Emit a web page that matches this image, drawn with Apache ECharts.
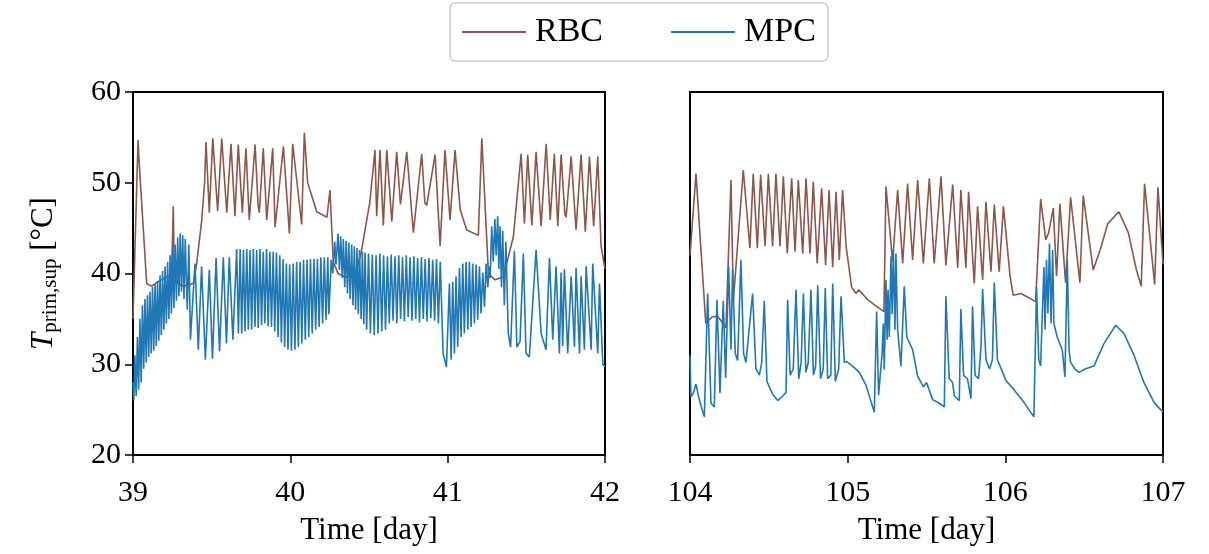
<!DOCTYPE html>
<html>
<head>
<meta charset="utf-8">
<script src="https://cdn.jsdelivr.net/npm/echarts@6/dist/echarts.min.js"></script>
<style>
html,body{margin:0;padding:0;background:#fff;}
#chart{width:1209px;height:554px;}
</style>
</head>
<body>
<div id="chart"></div>
<script>
// ---- Data (time [day], temperature [°C]) ----
const seriesNames = ['RBC', 'MPC'];
const leftXTicks = [39, 40, 41, 42];
const rightXTicks = [104, 105, 106, 107];
const yTicks = [20, 30, 40, 50, 60];

const rbcLeft = [
[39.000,35.0],[39.032,54.7],[39.040,52.0],[39.087,38.9],[39.120,38.6],[39.150,39.0],[39.200,39.5],[39.245,39.8],
[39.256,47.4],[39.262,40.5],[39.280,39.0],[39.320,38.6],[39.362,38.8],[39.383,38.9],[39.405,41.1],[39.437,45.9],
[39.455,50.0],[39.464,54.5],[39.485,46.7],[39.507,54.9],[39.538,46.9],[39.564,54.9],[39.596,46.7],[39.623,54.3],
[39.648,46.3],[39.669,54.2],[39.695,46.7],[39.718,53.8],[39.739,45.9],[39.776,54.2],[39.795,47.5],[39.803,46.7],
[39.828,53.8],[39.850,45.9],[39.888,53.8],[39.903,45.1],[39.956,54.0],[39.994,44.4],[40.015,54.3],[40.072,45.4],
[40.089,55.5],[40.110,50.0],[40.168,46.8],[40.200,46.5],[40.233,46.2],[40.252,49.2],[40.273,41.3],[40.303,40.0],
[40.348,39.6],[40.411,39.8],[40.449,42.2],[40.505,47.8],[40.538,53.6],[40.549,46.3],[40.570,53.6],[40.591,45.3],
[40.613,53.6],[40.645,45.7],[40.676,53.4],[40.700,47.6],[40.708,47.4],[40.740,53.4],[40.782,44.5],[40.835,53.2],
[40.855,47.8],[40.867,47.5],[40.920,53.1],[40.952,43.0],[40.983,53.6],[41.015,45.9],[41.047,53.6],[41.080,47.0],
[41.121,44.8],[41.195,44.2],[41.217,54.9],[41.259,40.0],[41.301,39.3],[41.354,39.6],[41.418,44.1],[41.467,53.2],
[41.488,45.5],[41.509,53.1],[41.535,45.3],[41.562,53.4],[41.594,45.2],[41.626,54.3],[41.652,45.9],[41.678,53.2],
[41.700,45.2],[41.721,53.1],[41.745,46.5],[41.753,46.2],[41.785,52.9],[41.816,44.8],[41.848,53.1],[41.875,44.6],
[41.901,52.9],[41.928,45.2],[41.954,52.9],[41.975,43.0],[42.000,40.5]
];

const mpcLeft = [
[39.000,28.0],[39.005,26.0],[39.012,31.0],[39.020,26.5],[39.028,33.0],[39.036,27.2],[39.044,35.0],[39.052,28.0],
[39.060,36.5],[39.068,29.5],[39.076,37.2],[39.084,30.2],[39.092,37.6],[39.100,30.8],[39.108,38.0],[39.116,31.2],
[39.124,38.5],[39.132,31.5],[39.140,38.8],[39.148,32.0],[39.156,39.2],[39.164,32.6],[39.172,39.8],[39.180,33.2],
[39.188,40.3],[39.196,33.8],[39.204,40.8],[39.212,34.5],[39.220,41.3],[39.228,35.0],[39.236,42.0],[39.244,35.6],
[39.252,42.6],[39.260,36.2],[39.268,43.2],[39.276,37.0],[39.284,44.0],[39.292,37.5],[39.300,44.4],[39.308,38.0],
[39.316,44.2],[39.324,37.2],[39.332,43.8],[39.345,36.0],[39.355,43.2],[39.365,32.7],
[39.394,41.1],[39.415,31.6],[39.436,40.8],[39.460,30.5],[39.485,40.4],[39.505,30.6],[39.528,41.7],[39.550,31.4],
[39.574,41.8],[39.594,32.3],[39.612,41.8],[39.635,32.7],[39.659,42.7],
[39.670,33.4],[39.681,42.7],[39.691,33.4],[39.702,42.6],[39.712,33.6],[39.723,42.7],[39.733,33.8],[39.744,42.6],
[39.754,33.8],[39.765,42.7],[39.775,34.1],[39.786,42.6],[39.796,34.0],[39.807,42.7],[39.817,34.3],[39.828,42.4],
[39.838,34.5],[39.849,42.7],[39.859,34.2],[39.870,42.4],[39.880,34.1],[39.891,42.4],[39.901,33.6],[39.912,42.3],
[39.922,33.0],[39.933,42.0],[39.943,32.4],[39.954,41.6],[39.964,31.9],[39.975,41.1],[39.985,31.6],
[39.996,41.0],[40.007,31.5],[40.018,41.1],[40.029,31.6],[40.040,41.3],[40.051,31.9],[40.062,41.3],[40.073,32.3],
[40.084,41.5],[40.095,32.7],[40.106,41.5],[40.117,33.0],[40.128,41.6],[40.139,33.4],[40.150,41.6],[40.161,33.8],
[40.172,41.6],[40.183,34.1],[40.194,41.8],[40.205,34.5],[40.216,41.8],[40.227,34.9],[40.238,41.8],[40.245,35.5],
[40.260,41.5],[40.270,40.0],[40.282,43.5],[40.290,41.0],[40.303,44.4],[40.312,40.4],[40.320,44.1],[40.330,39.5],
[40.337,43.8],[40.346,38.5],[40.355,43.6],[40.363,37.8],[40.372,43.4],[40.380,37.2],[40.390,43.2],[40.398,36.5],
[40.407,43.0],[40.415,36.0],[40.424,42.8],[40.432,35.5],[40.440,42.6],[40.450,35.0],[40.458,42.4],[40.467,34.4],
[40.475,42.3],[40.485,33.8],
[40.497,42.2],[40.509,33.4],[40.521,42.1],[40.533,33.2],[40.545,42.0],[40.557,33.4],[40.569,42.2],[40.581,33.6],
[40.593,42.0],[40.605,33.8],[40.617,41.9],[40.629,34.5],[40.641,42.1],[40.653,34.8],[40.665,41.9],[40.677,34.5],
[40.689,42.0],[40.701,35.0],[40.713,41.8],[40.725,34.7],[40.737,42.0],[40.749,35.2],[40.761,41.8],[40.773,34.8],
[40.785,41.9],[40.797,35.0],[40.809,41.7],[40.821,34.6],[40.833,41.8],[40.845,35.0],[40.857,41.6],[40.869,34.7],
[40.881,41.7],[40.893,35.1],[40.905,41.5],[40.917,34.8],[40.929,41.6],[40.941,34.5],[40.953,41.3],[40.971,31.2],
[40.992,29.7],
[41.011,38.9],[41.022,30.5],[41.032,39.1],[41.043,31.2],[41.053,39.7],[41.064,31.9],[41.075,40.6],[41.085,33.0],
[41.096,41.1],[41.106,33.4],[41.117,41.3],[41.128,33.8],[41.138,41.3],[41.149,34.1],[41.159,41.1],[41.170,34.5],
[41.181,41.0],[41.191,34.9],[41.202,40.8],[41.212,35.6],[41.223,40.1],[41.234,36.3],[41.244,41.1],
[41.255,38.5],[41.265,40.8],[41.270,39.5],[41.280,45.2],[41.290,41.3],[41.300,46.0],[41.308,42.0],[41.318,46.3],
[41.325,40.5],[41.333,45.2],[41.342,38.5],[41.350,44.7],[41.360,36.5],[41.370,43.5],[41.385,33.4],[41.400,31.9],
[41.424,42.5],[41.440,31.9],[41.460,32.5],[41.481,42.2],[41.498,31.2],[41.519,30.8],[41.562,42.6],[41.594,33.4],
[41.625,31.6],[41.647,41.7],[41.668,32.7],[41.689,40.8],[41.710,31.2],[41.721,40.1],[41.731,32.0],[41.742,40.5],
[41.763,31.2],[41.785,39.7],[41.806,31.9],[41.816,40.6],[41.838,31.2],[41.848,39.7],[41.869,31.6],[41.880,40.8],
[41.912,31.6],[41.922,41.1],[41.954,31.2],[41.965,38.9],[41.986,30.0],[42.000,29.7]
];

const rbcRight = [
[104.000,42.0],[104.038,51.0],[104.100,34.5],[104.140,35.2],[104.175,35.3],[104.210,34.5],[104.228,34.0],[104.260,50.3],
[104.275,37.0],[104.338,51.4],[104.380,42.8],[104.401,51.0],[104.427,42.8],[104.448,50.9],[104.476,43.0],[104.497,51.0],
[104.524,43.0],[104.545,51.0],[104.571,43.0],[104.592,50.7],[104.617,42.2],[104.645,50.5],[104.666,42.4],[104.687,50.3],
[104.715,42.2],[104.736,50.5],[104.761,42.2],[104.782,50.1],[104.807,41.1],[104.835,49.4],[104.860,40.9],[104.882,49.2],
[104.905,40.7],[104.926,49.0],[104.947,41.5],[104.968,49.2],[104.990,43.0],[105.025,38.5],[105.053,37.8],[105.070,38.2],
[105.128,37.1],[105.181,36.4],[105.230,35.8],[105.243,49.6],[105.285,41.3],[105.317,49.2],[105.349,41.1],[105.380,49.9],
[105.412,41.5],[105.444,50.3],[105.480,41.1],[105.518,50.5],[105.549,41.1],[105.592,50.7],[105.623,40.9],[105.666,49.8],
[105.698,40.6],[105.718,49.2],[105.750,40.6],[105.767,49.0],[105.803,38.9],[105.824,47.4],[105.856,39.3],[105.877,47.9],
[105.909,40.2],[105.930,47.6],[105.961,40.2],[105.988,47.4],[106.030,39.7],[106.050,37.6],[106.100,37.8],[106.192,36.9],
[106.224,48.2],[106.256,43.7],[106.275,44.5],[106.304,47.2],[106.325,39.7],[106.346,47.7],[106.382,39.0],[106.414,48.4],
[106.473,39.0],[106.494,48.6],[106.557,40.4],[106.600,42.5],[106.650,45.5],[106.720,46.8],[106.780,44.5],[106.830,40.5],
[106.862,38.6],[106.883,49.9],[106.947,38.8],[106.968,49.5],[107.000,41.0]
];

const mpcRight = [
[104.000,31.0],[104.006,26.4],[104.021,26.8],[104.038,27.8],[104.060,26.0],[104.091,24.2],[104.112,37.8],[104.133,25.7],
[104.154,25.3],[104.171,37.1],[104.190,26.8],[104.211,37.0],[104.226,28.5],[104.245,40.8],[104.260,31.6],[104.270,40.5],
[104.287,31.2],[104.302,30.4],[104.323,41.5],[104.340,31.2],[104.355,30.2],[104.397,37.8],[104.418,29.5],[104.440,28.8],
[104.455,30.2],[104.471,37.0],[104.488,28.1],[104.524,26.7],[104.556,26.0],[104.588,26.5],[104.609,26.9],[104.619,37.1],
[104.635,28.8],[104.655,29.5],[104.672,38.2],[104.690,28.4],[104.705,30.2],[104.719,37.8],[104.735,29.1],[104.750,30.2],
[104.767,38.2],[104.783,28.8],[104.797,29.8],[104.810,38.7],[104.828,28.4],[104.845,29.5],[104.858,38.4],[104.873,28.4],
[104.893,28.8],[104.905,38.9],[104.922,28.1],[104.943,29.5],[104.958,37.5],[104.979,30.2],[104.993,30.3],[105.031,29.8],
[105.074,29.1],[105.116,27.7],[105.169,24.7],[105.184,35.8],[105.196,26.6],[105.207,26.5],[105.218,31.1],[105.226,34.5],
[105.232,29.4],[105.243,39.3],[105.250,32.7],[105.256,38.2],[105.264,33.0],[105.275,41.9],[105.282,35.5],[105.290,42.6],
[105.300,33.8],[105.306,42.2],[105.317,33.8],[105.338,29.8],[105.359,38.6],[105.375,33.0],[105.412,31.6],[105.444,28.7],
[105.480,27.5],[105.500,28.0],[105.539,26.1],[105.581,25.7],[105.613,25.3],[105.623,37.5],[105.644,28.4],[105.665,28.0],
[105.677,26.5],[105.708,26.0],[105.718,36.1],[105.735,28.8],[105.760,28.4],[105.782,26.2],[105.792,36.4],[105.808,28.8],
[105.830,28.4],[105.845,31.7],[105.856,38.3],[105.877,30.5],[105.900,29.5],[105.918,30.5],[105.930,39.0],[105.950,30.5],
[105.983,29.1],[106.004,28.2],[106.055,27.2],[106.118,25.8],[106.181,24.2],[106.198,38.5],[106.212,30.5],[106.224,29.8],
[106.234,35.3],[106.245,40.7],[106.252,33.8],[106.261,41.5],[106.270,35.6],[106.280,43.3],[106.290,34.5],[106.300,42.6],
[106.308,34.5],[106.329,33.0],[106.361,31.6],[106.378,28.6],[106.393,41.5],[106.404,31.6],[106.414,30.2],[106.440,29.5],
[106.467,29.1],[106.509,29.5],[106.562,29.8],[106.626,32.3],[106.700,34.3],[106.752,33.4],[106.816,31.0],[106.879,28.0],
[106.943,25.8],[106.985,25.0],[107.000,24.8]
];

// ---- Styling ----
const FONT = 'Liberation Serif';
const colors = { RBC: '#8c564b', MPC: '#1f77b4' };

function xAxisFor(gridIndex, ticks) {
  return {
    type: 'value', gridIndex: gridIndex,
    min: ticks[0], max: ticks[ticks.length - 1], interval: ticks[1] - ticks[0],
    name: 'Time [day]', nameLocation: 'middle', nameGap: 60,
    nameTextStyle: { fontFamily: FONT, fontSize: 31, color: '#000' },
    axisLine: { show: true, onZero: false, lineStyle: { color: '#000', width: 2 } },
    axisTick: { show: true, inside: false, length: 8, lineStyle: { color: '#000', width: 1.5 } },
    axisLabel: { show: true, margin: 23, fontFamily: FONT, fontSize: 30, color: '#000' },
    splitLine: { show: false }
  };
}

const option = {
  animation: false,
  backgroundColor: '#fff',
  color: [colors.RBC, colors.MPC],
  legend: {
    data: seriesNames.map(function (n) { return { name: n, icon: 'rect' }; }),
    top: 3, left: 450,
    padding: [12, 12, 12, 12],
    itemWidth: 64, itemHeight: 2, itemGap: 68,
    borderColor: '#cccccc', borderWidth: 1.5, borderRadius: 5,
    backgroundColor: '#fff',
    textStyle: { fontFamily: FONT, fontSize: 34, color: '#000', padding: [0, 0, 0, 4] }
  },
  grid: [
    { left: 133, top: 92, width: 472, height: 363, show: true, borderColor: '#000', borderWidth: 2, backgroundColor: 'transparent' },
    { left: 690, top: 92, width: 473, height: 363, show: true, borderColor: '#000', borderWidth: 2, backgroundColor: 'transparent' }
  ],
  xAxis: [ xAxisFor(0, leftXTicks), xAxisFor(1, rightXTicks) ],
  yAxis: [
    {
      type: 'value', gridIndex: 0, min: yTicks[0], max: yTicks[yTicks.length - 1], interval: yTicks[1] - yTicks[0],
      name: '{it|T}{sub|prim,sup} [°C]', nameLocation: 'middle', nameGap: 72, nameRotate: 90,
      nameTextStyle: {
        fontFamily: FONT, fontSize: 31, color: '#000',
        rich: {
          it: { fontFamily: FONT, fontSize: 31, fontStyle: 'italic', color: '#000' },
          sub: { fontFamily: FONT, fontSize: 21, color: '#000', verticalAlign: 'bottom', padding: [14, 0, 0, 0] }
        }
      },
      axisLine: { show: true, lineStyle: { color: '#000', width: 2 } },
      axisTick: { show: true, inside: false, length: 8, lineStyle: { color: '#000', width: 1.5 } },
      axisLabel: { show: true, margin: 12, fontFamily: FONT, fontSize: 30, color: '#000' },
      splitLine: { show: false }
    },
    {
      type: 'value', gridIndex: 1, min: yTicks[0], max: yTicks[yTicks.length - 1], interval: yTicks[1] - yTicks[0],
      axisLine: { show: true, lineStyle: { color: '#000', width: 2 } },
      axisTick: { show: false }, axisLabel: { show: false }, splitLine: { show: false }
    }
  ],
  series: [
    { name: 'RBC', type: 'line', xAxisIndex: 0, yAxisIndex: 0, data: rbcLeft, symbol: 'none', lineStyle: { color: colors.RBC, width: 1.6 }, itemStyle: { color: colors.RBC }, z: 2 },
    { name: 'MPC', type: 'line', xAxisIndex: 0, yAxisIndex: 0, data: mpcLeft, symbol: 'none', lineStyle: { color: colors.MPC, width: 1.6 }, itemStyle: { color: colors.MPC }, z: 3 },
    { name: 'RBC', type: 'line', xAxisIndex: 1, yAxisIndex: 1, data: rbcRight, symbol: 'none', lineStyle: { color: colors.RBC, width: 1.6 }, itemStyle: { color: colors.RBC }, z: 2 },
    { name: 'MPC', type: 'line', xAxisIndex: 1, yAxisIndex: 1, data: mpcRight, symbol: 'none', lineStyle: { color: colors.MPC, width: 1.6 }, itemStyle: { color: colors.MPC }, z: 3 }
  ]
};

const chart = echarts.init(document.getElementById('chart'), null, { renderer: 'canvas' });
chart.setOption(option);
</script>
</body>
</html>
